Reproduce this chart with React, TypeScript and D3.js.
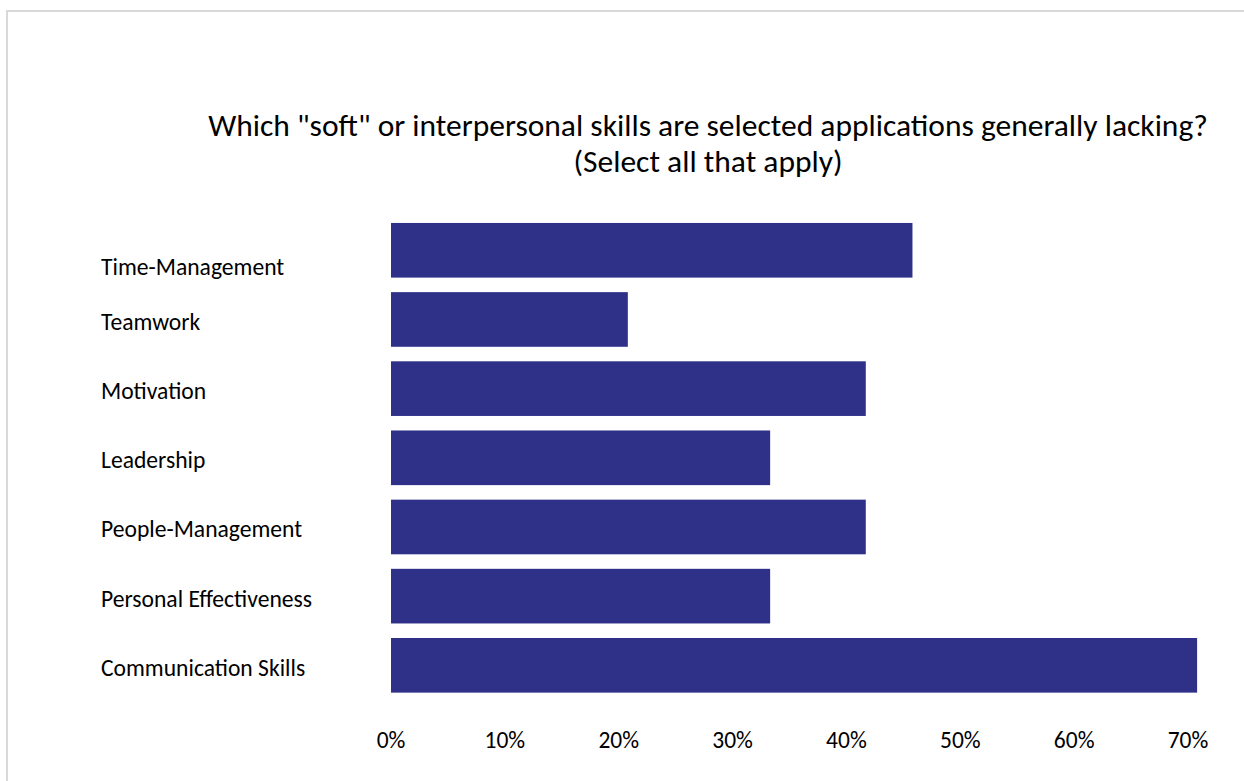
import React from "react";
import * as d3 from "d3";

const categories: string[] = [
  "Time-Management",
  "Teamwork",
  "Motivation",
  "Leadership",
  "People-Management",
  "Personal Effectiveness",
  "Communication Skills",
];
const values: number[] = [0.458, 0.208, 0.417, 0.333, 0.417, 0.333, 0.708];
const xTicks: number[] = [0, 0.1, 0.2, 0.3, 0.4, 0.5, 0.6, 0.7];
const titleLines: string[] = [
  'Which "soft" or interpersonal skills are selected applications generally lacking?',
  "(Select all that apply)",
];

const W = 1244;
const H = 781;
const FONT = "Carlito, Calibri, Lato, 'Open Sans', sans-serif";
const BAR = "#2f3189";

export default function App() {
  const x = d3.scaleLinear().domain([0, 0.7]).range([391, 1188]);
  const y = d3
    .scaleBand<string>()
    .domain(categories)
    .range([215.7, 699.9])
    .paddingInner(0.21)
    .paddingOuter(0.105);
  const fmt = d3.format(".0%");

  return (
    <svg
      width={W}
      height={H}
      style={{ position: "fixed", left: 0, top: 0, background: "#fff" }}
      fontFamily={FONT}
    >
      <rect x={0} y={0} width={W} height={H} fill="#fff" />
      <rect x={7} y={11} width={W + 20} height={H + 20} fill="none" stroke="#d9d9d9" strokeWidth={2} />
      <g fill="#000" fontSize={31.5} textAnchor="middle">
        {titleLines.map((t, i) => (
          <text key={i} x={708} y={136 + i * 36}>
            {t}
          </text>
        ))}
      </g>
      <g>
        {categories.map((c, i) => (
          <rect
            key={c}
            x={x(0)}
            y={y(c)!}
            width={x(values[i]) - x(0)}
            height={y.bandwidth()}
            fill={BAR}
          />
        ))}
      </g>
      <g fontSize={23.6} fill="#000">
        {categories.map((c, i) => (
          <text key={c} x={101} y={y(c)! + y.bandwidth() / 2 + (i === 0 ? 25 : 10.5)}>
            {c}
          </text>
        ))}
      </g>
      <g fontSize={23.5} fill="#000" textAnchor="middle">
        {xTicks.map((t) => (
          <text key={t} x={x(t)} y={748}>
            {fmt(t)}
          </text>
        ))}
      </g>
    </svg>
  );
}
